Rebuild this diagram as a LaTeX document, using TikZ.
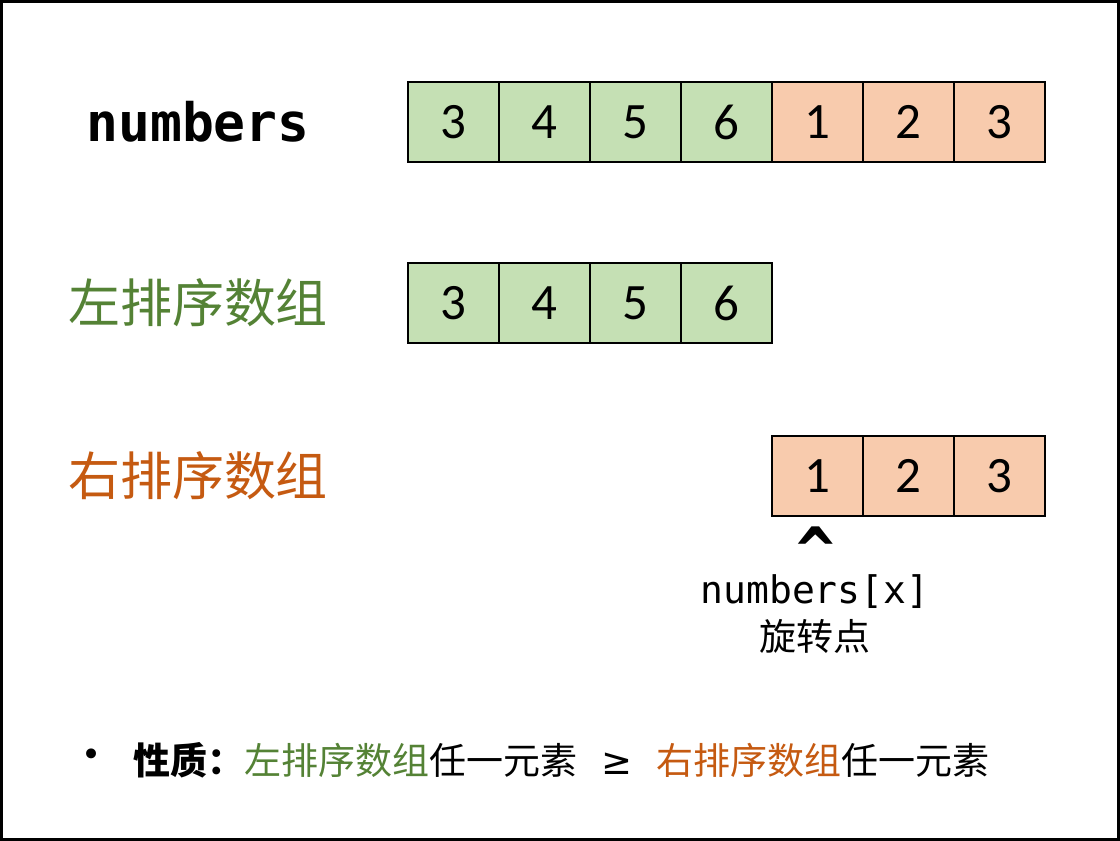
\documentclass[tikz,border=0pt]{standalone}
\usepackage{fontspec}
\usepackage{xcolor}
\usepackage{tikz}
\setmonofont{DejaVu Sans Mono}
\newfontfamily\cjk{Noto Sans CJK SC}
\newfontfamily\cellfont{Carlito}
\newfontfamily\symfont{DejaVu Sans}
\definecolor{leftfill}{HTML}{C5E0B4}
\definecolor{rightfill}{HTML}{F8CBAD}
\definecolor{leftgreen}{HTML}{548235}
\definecolor{rightorange}{HTML}{C55A11}
\usetikzlibrary{positioning}

\begin{document}
\begin{tikzpicture}[x=1pt, y=-1pt,
  cell/.style={draw, line width=1.5pt, minimum width=91pt, minimum height=80pt, inner sep=0pt, outer sep=0pt,
               font=\cellfont\fontsize{51}{51}\selectfont},
  lcell/.style={cell, fill=leftfill},
  rcell/.style={cell, fill=rightfill},
  rowlabel/.style={font=\cjk\fontsize{52}{52}\selectfont}
]
\useasboundingbox (0,0) rectangle (1120,841);
\draw[line width=3pt] (1.5,1.5) rectangle (1118.5,839.5);

% numbers
\node[font=\ttfamily\bfseries\fontsize{53}{53}\selectfont] (numlabel) at (198,122) {numbers};
\node[lcell] (n1) at (453.5,122) {3};
\node[lcell, right=0pt of n1] (n2) {4};
\node[lcell, right=0pt of n2] (n3) {5};
\node[lcell, right=0pt of n3] (n4) {6};
\node[rcell, right=0pt of n4] (n5) {1};
\node[rcell, right=0pt of n5] (n6) {2};
\node[rcell, right=0pt of n6] (n7) {3};

% left sorted part
\node[rowlabel, text=leftgreen] (leftlabel) at (198,303) {左排序数组};
\node[lcell] (l1) at (453.5,303) {3};
\node[lcell, right=0pt of l1] (l2) {4};
\node[lcell, right=0pt of l2] (l3) {5};
\node[lcell, right=0pt of l3] (l4) {6};

% right sorted part
\node[rowlabel, text=rightorange] (rightlabel) at (198,476) {右排序数组};
\node[rcell] (r1) at (817.5,476) {1};
\node[rcell, right=0pt of r1] (r2) {2};
\node[rcell, right=0pt of r2] (r3) {3};

% pivot
\node[font=\ttfamily\bfseries\fontsize{64}{64}\selectfont, inner sep=0pt, anchor=base] (caret) at (816,573) {\^{}};
\node[font=\ttfamily\fontsize{38}{38}\selectfont, inner sep=0pt] (pivot) at (815,592) {numbers[x]};
\node[font=\cjk\fontsize{37}{37}\selectfont] (pivotname) at (815,636) {旋转点};

% property
\node[font=\symfont\fontsize{34}{34}\selectfont] (bullet) at (92,758) {•};
\node[anchor=west, inner sep=0pt, font=\cjk\fontsize{37}{37}\selectfont] (prop) at (133,760)
  {{\bfseries 性质：}{\color{leftgreen}左排序数组}任一元素\hspace{24pt}{\symfont ≥}\hspace{24pt}{\color{rightorange}右排序数组}任一元素};
\end{tikzpicture}
\end{document}
